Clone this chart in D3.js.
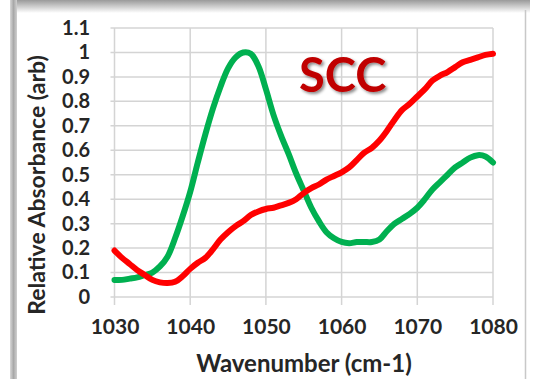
<!DOCTYPE html>
<html>
<head>
<meta charset="utf-8">
<script src="https://cdn.jsdelivr.net/npm/d3@7"></script>
<style>
  html, body { margin: 0; padding: 0; background: #ffffff; }
  svg { display: block; }
  text { font-family: Lato, "Open Sans", sans-serif; }
</style>
</head>
<body>
<svg id="chart" width="538" height="379"></svg>
<script>
// Wavenumber grid (cm-1) and relative absorbance of the two spectra
const wavenumbers = d3.range(1030, 1081);

const greenSpectrum = [
  0.07, 0.07, 0.075, 0.08, 0.09, 0.10, 0.125, 0.165, 0.24, 0.33,
  0.43, 0.55, 0.665, 0.77, 0.86, 0.935, 0.98, 1.00, 0.995, 0.945,
  0.85, 0.745, 0.66, 0.585, 0.505, 0.435, 0.365, 0.31, 0.265, 0.24,
  0.225, 0.22, 0.225, 0.225, 0.225, 0.235, 0.27, 0.30, 0.32, 0.34,
  0.365, 0.40, 0.44, 0.47, 0.50, 0.53, 0.55, 0.57, 0.58, 0.575,
  0.55
];

const redSpectrum = [
  0.19, 0.16, 0.135, 0.11, 0.09, 0.07, 0.06, 0.057, 0.062, 0.085,
  0.115, 0.14, 0.16, 0.195, 0.235, 0.265, 0.29, 0.31, 0.335, 0.35,
  0.36, 0.365, 0.375, 0.385, 0.40, 0.425, 0.445, 0.46, 0.48, 0.495,
  0.51, 0.53, 0.56, 0.59, 0.61, 0.64, 0.68, 0.725, 0.765, 0.79,
  0.82, 0.85, 0.885, 0.905, 0.92, 0.94, 0.96, 0.97, 0.98, 0.99,
  0.995
];

const xTicks = [1030, 1040, 1050, 1060, 1070, 1080];
const yTicks = [0, 0.1, 0.2, 0.3, 0.4, 0.5, 0.6, 0.7, 0.8, 0.9, 1, 1.1];
const yTickLabels = ["0", "0.1", "0.2", "0.3", "0.4", "0.5", "0.6", "0.7", "0.8", "0.9", "1", "1.1"];

const svg = d3.select("#chart");

// Frame: top shadow, left bar, right edge
const defs = svg.append("defs");
const topGrad = defs.append("linearGradient")
  .attr("id", "topShade").attr("x1", 0).attr("y1", 0).attr("x2", 0).attr("y2", 1);
topGrad.append("stop").attr("offset", "0%").attr("stop-color", "#9a9a9a");
topGrad.append("stop").attr("offset", "100%").attr("stop-color", "#ffffff");
const sideGrad = defs.append("linearGradient")
  .attr("id", "sideShade").attr("x1", 0).attr("y1", 0).attr("x2", 1).attr("y2", 0);
sideGrad.append("stop").attr("offset", "0%").attr("stop-color", "#d8d8d8");
sideGrad.append("stop").attr("offset", "50%").attr("stop-color", "#a8a8a8");
sideGrad.append("stop").attr("offset", "100%").attr("stop-color", "#d0d0d0");

svg.append("rect").attr("x", 12).attr("y", 0).attr("width", 518).attr("height", 13)
  .attr("fill", "url(#topShade)");
svg.append("rect").attr("x", 10).attr("y", 0).attr("width", 7).attr("height", 379)
  .attr("fill", "url(#sideShade)");
svg.append("line").attr("x1", 525.5).attr("x2", 525.5).attr("y1", 10).attr("y2", 379)
  .attr("stroke", "#c8c8c8").attr("stroke-width", 1.5);

// Scales
const x = d3.scaleLinear().domain([1030, 1080]).range([114.5, 493]);
const y = d3.scaleLinear().domain([0, 1.1]).range([297, 28]);

// Gridlines
const grid = svg.append("g");
grid.selectAll("line.h").data(yTicks).join("line")
  .attr("class", "h")
  .attr("x1", x(1030) - 4).attr("x2", x(1080))
  .attr("y1", d => y(d)).attr("y2", d => y(d))
  .attr("stroke", "#d4d4d4").attr("stroke-width", 1.5);
grid.selectAll("line.v").data(xTicks).join("line")
  .attr("class", "v")
  .attr("x1", d => x(d)).attr("x2", d => x(d))
  .attr("y1", y(1.1)).attr("y2", y(0) + 8)
  .attr("stroke", "#d4d4d4").attr("stroke-width", 1.5);

// Axes (labels only)
const yAxis = d3.axisLeft(y).tickValues(yTicks)
  .tickFormat((d, i) => yTickLabels[i]).tickSize(0).tickPadding(0);
const gy = svg.append("g").attr("transform", "translate(90,0)").call(yAxis);
gy.select(".domain").remove();
gy.selectAll("text")
  .attr("fill", "#262626").attr("font-size", 20).attr("font-weight", "bold")
  .attr("font-family", "Lato, sans-serif");

const xAxis = d3.axisBottom(x).tickValues(xTicks).tickFormat(d3.format("d"))
  .tickSize(0).tickPadding(0);
const gx = svg.append("g").attr("transform", "translate(0,319)").call(xAxis);
gx.select(".domain").remove();
gx.selectAll("text")
  .attr("fill", "#262626").attr("font-size", 21).attr("font-weight", "bold")
  .attr("font-family", "Lato, sans-serif");

// Spectra
const line = d3.line()
  .x((d, i) => x(wavenumbers[i]))
  .y(d => y(d))
  .curve(d3.curveCatmullRom.alpha(0.5));

svg.append("path").datum(greenSpectrum)
  .attr("d", line).attr("fill", "none")
  .attr("stroke", "#00b050").attr("stroke-width", 6)
  .attr("stroke-linejoin", "round").attr("stroke-linecap", "round");

svg.append("path").datum(redSpectrum)
  .attr("d", line).attr("fill", "none")
  .attr("stroke", "#ff0000").attr("stroke-width", 6)
  .attr("stroke-linejoin", "round").attr("stroke-linecap", "round");

// Axis titles
svg.append("text")
  .attr("x", 304).attr("y", 372)
  .attr("text-anchor", "middle")
  .attr("font-size", 24).attr("font-weight", "bold").attr("fill", "#262626")
  .text("Wavenumber (cm-1)");

svg.append("text")
  .attr("transform", "translate(45,185) rotate(-90)")
  .attr("text-anchor", "middle")
  .attr("font-size", 23).attr("font-weight", "bold").attr("fill", "#262626")
  .text("Relative Absorbance (arb)");

// Sample label with soft shadow
const shadow = defs.append("filter").attr("id", "labelShadow")
  .attr("x", "-20%").attr("y", "-20%").attr("width", "140%").attr("height", "140%");
shadow.append("feDropShadow")
  .attr("dx", 2).attr("dy", 2).attr("stdDeviation", 1.5)
  .attr("flood-color", "#000000").attr("flood-opacity", 0.45);

svg.append("text")
  .attr("x", 299).attr("y", 92)
  .attr("font-size", 47).attr("font-weight", "bold").attr("fill", "#c00000")
  .attr("filter", "url(#labelShadow)")
  .text("SCC");
</script>
</body>
</html>
